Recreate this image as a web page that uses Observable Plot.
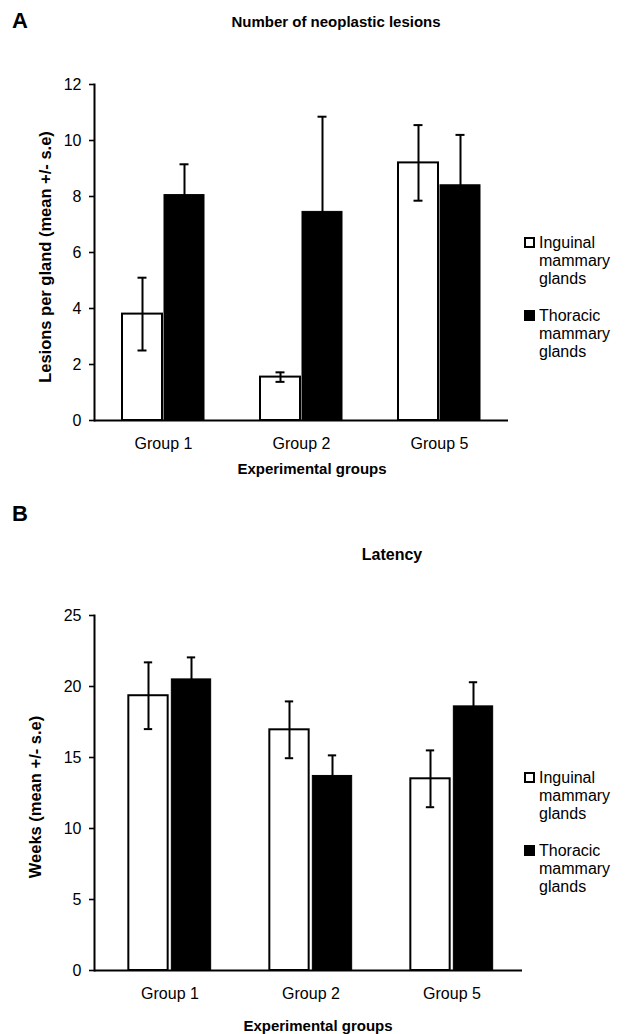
<!DOCTYPE html>
<html><head><meta charset="utf-8">
<script src="https://cdn.jsdelivr.net/npm/d3@7"></script>
<script src="https://cdn.jsdelivr.net/npm/@observablehq/plot@0.6"></script>
<style>
html,body{margin:0;padding:0;background:#fff;}
#page{position:relative;width:626px;height:1034px;overflow:hidden;font-family:"Liberation Sans",Arial,sans-serif;color:#000;background:#fff;}
.t{position:absolute;white-space:nowrap;line-height:1;}
.b{font-weight:bold;}
.plot{position:absolute;left:0;}
.leg{position:absolute;font-size:16px;line-height:18px;}
.sw{position:absolute;width:7px;height:7px;border:2px solid #000;}
</style></head><body><div id="page"></div>
<script>
const groups = ["Group 1", "Group 2", "Group 5"];
const seriesNames = ["Inguinal", "Thoracic"];
const lesionsInguinal = [3.8, 1.55, 9.2];
const lesionsInguinalSE = [1.3, 0.17, 1.35];
const lesionsThoracic = [8.05, 7.45, 8.4];
const lesionsThoracicSE = [1.1, 3.4, 1.8];
const latencyInguinal = [19.35, 16.95, 13.5];
const latencyInguinalSE = [2.35, 2.0, 2.0];
const latencyThoracic = [20.5, 13.7, 18.6];
const latencyThoracicSE = [1.55, 1.45, 1.7];
const ticksA = [0, 2, 4, 6, 8, 10, 12];
const ticksB = [0, 5, 10, 15, 20, 25];

function rowsOf(vI, sI, vT, sT) {
  const r = [];
  groups.forEach((g, i) => {
    r.push({group: g, series: seriesNames[0], value: vI[i], se: sI[i]});
    r.push({group: g, series: seriesNames[1], value: vT[i], se: sT[i]});
  });
  return r;
}
const rowsA = rowsOf(lesionsInguinal, lesionsInguinalSE, lesionsThoracic, lesionsThoracicSE);
const rowsB = rowsOf(latencyInguinal, latencyInguinalSE, latencyThoracic, latencyThoracicSE);

function panel(o) {
  const ing = o.rows.filter(d => d.series === seriesNames[0]);
  const tho = o.rows.filter(d => d.series === seriesNames[1]);
  const step = (o.xRange[1] - o.xRange[0]) / groups.length;
  const barInset = (step - o.barW) / 2;
  const capInset = (step - 9) / 2;
  const errMarks = (data, dx) => [
    Plot.ruleX(data, {x: "group", y1: d => d.value - d.se, y2: d => d.value + d.se, dx, stroke: "#000", strokeWidth: 2}),
    Plot.tickY(data, {x: "group", y: d => d.value + d.se, dx, insetLeft: capInset, insetRight: capInset, stroke: "#000", strokeWidth: 2}),
    Plot.tickY(data, {x: "group", y: d => d.value - d.se, dx, insetLeft: capInset, insetRight: capInset, stroke: "#000", strokeWidth: 2})
  ];
  return Plot.plot({
    width: 626, height: o.height,
    marginTop: o.marginTop, marginBottom: o.marginBottom, marginLeft: o.marginLeft, marginRight: o.marginRight,
    style: {fontFamily: "Liberation Sans, Arial, sans-serif", fontSize: "16px", color: "#000", background: "transparent", overflow: "visible"},
    x: {type: "band", domain: groups, range: o.xRange, padding: 0},
    y: {domain: o.yDomain},
    marks: [
      Plot.barY(ing, {x: "group", y: "value", fill: "#fff", stroke: "#000", strokeWidth: 2, insetLeft: barInset, insetRight: barInset, dx: -o.off}),
      Plot.barY(tho, {x: "group", y: "value", fill: "#000", stroke: "#000", strokeWidth: 1, insetLeft: barInset, insetRight: barInset, dx: o.off}),
      ...errMarks(ing, -o.off),
      ...errMarks(tho, o.off),
      Plot.axisY({ticks: o.yTicks, tickSize: 5, tickPadding: 8, label: null, strokeWidth: 1.6, fontSize: 16}),
      Plot.axisX({tickSize: 0, tickPadding: 17, label: null, fontSize: 16}),
      Plot.frame({anchor: "left", strokeWidth: 2, stroke: "#000"}),
      Plot.ruleY([0], {stroke: "#000", strokeWidth: 2})
    ]
  });
}

const page = document.getElementById("page");
function addText(txt, cls, style) {
  const d = document.createElement("div");
  d.className = "t " + cls;
  d.textContent = txt;
  Object.assign(d.style, style);
  page.appendChild(d);
  return d;
}
function addLegend(top) {
  const items = [["Inguinal", "mammary", "glands", "#fff"], ["Thoracic", "mammary", "glands", "#000"]];
  items.forEach((it, k) => {
    const y = top + k * 73;
    const sw = document.createElement("div");
    sw.className = "sw";
    sw.style.left = "524px"; sw.style.top = (y + 3) + "px"; sw.style.background = it[3];
    page.appendChild(sw);
    const tx = document.createElement("div");
    tx.className = "leg";
    tx.style.left = "539px"; tx.style.top = y + "px";
    tx.innerHTML = it.slice(0, 3).join("<br>");
    page.appendChild(tx);
  });
}

// Panel A
const svgA = panel({rows: rowsA, yDomain: [0, 12], yTicks: ticksA, height: 500, marginTop: 84, marginBottom: 80,
  marginLeft: 94, marginRight: 118, xRange: [94, 508], barW: 40, off: 21});
svgA.classList.add("plot"); svgA.style.top = "0px";
page.appendChild(svgA);

// Panel B
const svgB = panel({rows: rowsB, yDomain: [0, 25], yTicks: ticksB, height: 534, marginTop: 115, marginBottom: 64,
  marginLeft: 94, marginRight: 104, xRange: [98, 523], barW: 40, off: 21.5});
svgB.classList.add("plot"); svgB.style.top = "500px";
page.appendChild(svgB);

// texts
addText("A", "b", {left: "12px", top: "10px", fontSize: "22px"});
addText("Number of neoplastic lesions", "b", {left: "336px", top: "14px", fontSize: "15px", transform: "translateX(-50%)"});
addText("Lesions per gland (mean +/- s.e)", "b", {left: "45px", top: "257px", fontSize: "16.5px", transform: "translate(-50%,-50%) rotate(-90deg)"});
addText("Experimental groups", "b", {left: "312px", top: "461px", fontSize: "15px", transform: "translateX(-50%)"});
addLegend(234);

addText("B", "b", {left: "12px", top: "503px", fontSize: "22px"});
addText("Latency", "b", {left: "392px", top: "547px", fontSize: "16px", transform: "translateX(-50%)"});
addText("Weeks (mean +/- s.e)", "b", {left: "35px", top: "797px", fontSize: "16.5px", transform: "translate(-50%,-50%) rotate(-90deg)"});
addText("Experimental groups", "b", {left: "318px", top: "1018px", fontSize: "15px", transform: "translateX(-50%)"});
addLegend(769);
</script></body></html>
